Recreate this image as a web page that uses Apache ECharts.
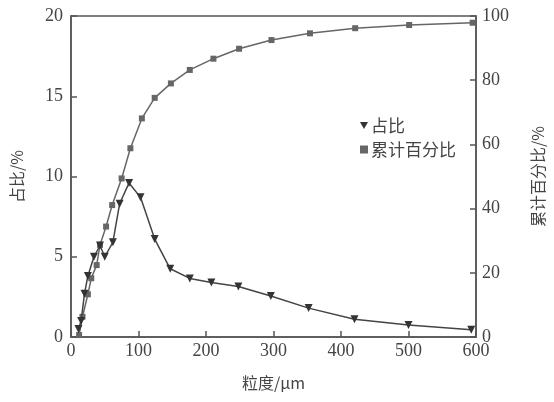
<!DOCTYPE html>
<html><head><meta charset="utf-8">
<script src="https://cdn.jsdelivr.net/npm/echarts@6/dist/echarts.min.js"></script>
<style>html,body{margin:0;padding:0;background:#fff}#c{width:554px;height:402px}</style>
</head><body><div id="c"></div>
<script>
// 占比 (triangles)
const sizeA = [11, 15, 20, 25, 34, 43, 50, 62, 72, 86, 103, 124, 147, 176, 208, 248, 296, 352, 420, 500, 593];
const ratio = [0.5, 1.0, 2.7, 3.8, 5.0, 5.7, 5.0, 5.9, 8.3, 9.6, 8.7, 6.1, 4.25, 3.65, 3.4, 3.15, 2.55, 1.8, 1.1, 0.75, 0.45];
// 累计百分比 (squares)
const sizeB = [12, 17, 25, 30, 38, 43, 52, 61, 75, 88, 105, 124, 148, 176, 211, 249, 297, 354, 421, 501, 595];
const cumul = [0.6, 6.3, 13.3, 18.3, 22.4, 28.7, 34.4, 41.1, 49.4, 58.8, 68.1, 74.5, 79.0, 83.2, 86.7, 89.8, 92.5, 94.6, 96.2, 97.2, 97.9];
const xTicks = [0, 100, 200, 300, 400, 500, 600];
const yLeftTicks = [0, 5, 10, 15, 20];
const yRightTicks = [0, 20, 40, 60, 80, 100];

const txt = '#444', axisC = '#555';
const numFont = 'Times New Roman';
const cjk = 'Noto Sans CJK SC';

const chart = echarts.init(document.getElementById('c'), null, {renderer: 'canvas'});
chart.setOption({
  animation: false,
  backgroundColor: '#fff',
  grid: {left: 71, right: 76, top: 16, bottom: 65, show: true, borderColor: axisC, borderWidth: 1.5, backgroundColor: 'transparent'},
  legend: {
    orient: 'vertical', left: 355, top: 112, itemGap: 7, itemWidth: 8, itemHeight: 8,
    textStyle: {fontFamily: cjk, fontSize: 17, color: txt, padding: [0, 0, 0, -2]},
    data: [
      {name: '占比', icon: 'path://M0,0L10,0L5,9Z', itemStyle: {color: '#333'}},
      {name: '累计百分比', icon: 'rect', itemStyle: {color: '#666'}}
    ]
  },
  xAxis: {
    type: 'value', min: xTicks[0], max: xTicks[xTicks.length - 1], interval: 100,
    name: '粒度/µm', nameLocation: 'middle', nameGap: 38,
    nameTextStyle: {fontFamily: cjk, fontSize: 16, color: txt},
    axisLine: {show: true, lineStyle: {color: axisC, width: 1.5}},
    axisTick: {show: true, inside: true, length: 6, lineStyle: {color: axisC, width: 1.5}},
    axisLabel: {fontFamily: numFont, fontSize: 18, color: txt, margin: 5},
    splitLine: {show: false}
  },
  yAxis: [{
    type: 'value', min: yLeftTicks[0], max: yLeftTicks[yLeftTicks.length - 1], interval: 5,
    name: '占比/%', nameLocation: 'middle', nameGap: 46, nameRotate: 90,
    nameTextStyle: {fontFamily: cjk, fontSize: 16, color: txt},
    axisLine: {show: true, lineStyle: {color: axisC, width: 1.5}},
    axisTick: {show: true, inside: true, length: 6, lineStyle: {color: axisC, width: 1.5}},
    axisLabel: {fontFamily: numFont, fontSize: 18, color: txt, margin: 8},
    splitLine: {show: false}
  }, {
    type: 'value', position: 'right', min: yRightTicks[0], max: yRightTicks[yRightTicks.length - 1], interval: 20,
    name: '累计百分比/%', nameLocation: 'middle', nameGap: 54, nameRotate: 90,
    nameTextStyle: {fontFamily: cjk, fontSize: 16, color: txt},
    axisLine: {show: true, lineStyle: {color: axisC, width: 1.5}},
    axisTick: {show: true, inside: true, length: 6, lineStyle: {color: axisC, width: 1.5}},
    axisLabel: {fontFamily: numFont, fontSize: 18, color: txt, margin: 6},
    splitLine: {show: false}
  }],
  series: [{
    name: '占比', type: 'line', yAxisIndex: 0,
    data: sizeA.map((x, i) => [x, ratio[i]]),
    symbol: 'triangle', symbolRotate: 180, symbolSize: 8,
    itemStyle: {color: '#333'},
    lineStyle: {color: '#444', width: 1.5}, z: 3
  }, {
    name: '累计百分比', type: 'line', yAxisIndex: 1,
    data: sizeB.map((x, i) => [x, cumul[i]]),
    symbol: 'rect', symbolSize: 6,
    itemStyle: {color: '#666'},
    lineStyle: {color: '#666', width: 1.5}, z: 2
  }]
});
</script></body></html>
